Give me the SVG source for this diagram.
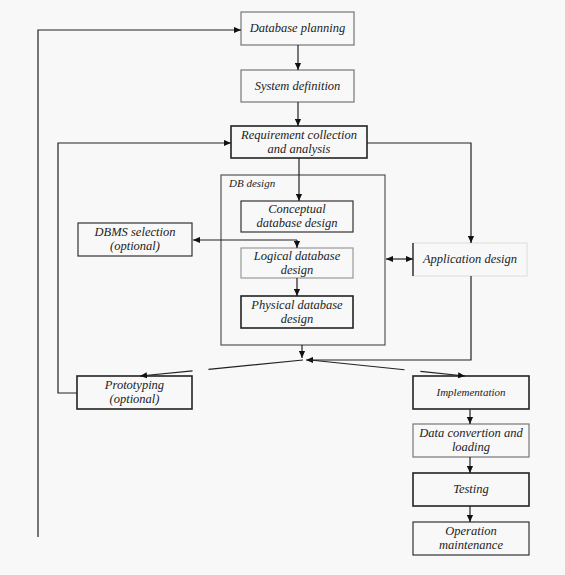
<svg xmlns="http://www.w3.org/2000/svg" width="565" height="575" viewBox="0 0 565 575">
<defs>
<style>
.bg{fill:#f8f8f8}
.box{fill:#f8f8f8;stroke:#333;stroke-width:1.2}
.g{stroke:#777}
.lg{stroke:#999}
.thick{stroke:#222;stroke-width:1.6}
.t{font-family:"Liberation Serif","Times New Roman",serif;font-style:italic;font-size:12.5px;fill:#222;text-anchor:middle}
.c{fill:none;stroke:#222;stroke-width:1.2}
.d{stroke-dasharray:95 16}
</style>
<marker id="ar" viewBox="0 0 8 8" refX="8" refY="4" markerWidth="7" markerHeight="7" markerUnits="userSpaceOnUse" orient="auto-start-reverse">
<path d="M0,0.5 L8,4 L0,7.5 Z" fill="#111"/>
</marker>
</defs>
<rect class="bg" x="0" y="0" width="565" height="575"/>

<g id="db-design">
<rect x="221" y="175" width="164" height="170" fill="none" stroke="#555" stroke-width="1.2"/>
<text class="t" x="229" y="187" style="text-anchor:start;font-size:11px">DB design</text>
</g>

<g id="database-planning">
<rect class="box g" x="241" y="12" width="113" height="33"/>
<text class="t" x="297.5" y="32">Database planning</text>
</g>
<g id="system-definition">
<rect class="box g" x="241" y="70" width="113" height="32"/>
<text class="t" x="297.5" y="90">System definition</text>
</g>
<g id="requirement">
<rect class="box thick" x="231" y="126" width="136" height="32"/>
<text class="t" x="299" y="139">Requirement collection</text>
<text class="t" x="299" y="153">and analysis</text>
</g>
<g id="conceptual">
<rect class="box" x="241" y="201" width="112" height="31"/>
<text class="t" x="297" y="213">Conceptual</text>
<text class="t" x="297" y="227">database design</text>
</g>
<g id="logical">
<rect class="box lg" x="241" y="248" width="112" height="30"/>
<text class="t" x="297" y="260">Logical database</text>
<text class="t" x="297" y="274">design</text>
</g>
<g id="physical">
<rect class="box thick" x="241" y="296" width="112" height="32"/>
<text class="t" x="297" y="309">Physical database</text>
<text class="t" x="297" y="323">design</text>
</g>
<g id="dbms-selection">
<rect class="box" x="78" y="223" width="114" height="33"/>
<text class="t" x="135" y="236">DBMS selection</text>
<text class="t" x="135" y="250">(optional)</text>
</g>
<g id="application-design">
<rect class="box" x="413" y="243" width="114" height="33" style="stroke:#e2e2e2"/>
<line x1="413" y1="243" x2="413" y2="276" stroke="#333" stroke-width="1.5"/>
<text class="t" x="470" y="263">Application design</text>
</g>
<g id="prototyping">
<rect class="box thick" x="77" y="376" width="115" height="33"/>
<text class="t" x="134.5" y="389">Prototyping</text>
<text class="t" x="134.5" y="403">(optional)</text>
</g>
<g id="implementation">
<rect class="box thick" x="413" y="376" width="116" height="33"/>
<text class="t" x="471" y="396" style="font-size:11px">Implementation</text>
</g>
<g id="data-conversion">
<rect class="box g" x="413" y="424" width="116" height="33"/>
<text class="t" x="471" y="437">Data convertion and</text>
<text class="t" x="471" y="451">loading</text>
</g>
<g id="testing">
<rect class="box thick" x="413" y="473" width="116" height="33"/>
<text class="t" x="471" y="493">Testing</text>
</g>
<g id="operation">
<rect class="box" x="413" y="522" width="116" height="33"/>
<text class="t" x="471" y="535">Operation</text>
<text class="t" x="471" y="549">maintenance</text>
</g>

<g id="connectors">
<path class="c" d="M38,537 V30 H241" marker-end="url(#ar)"/>
<path class="c" d="M298,45 V70" marker-end="url(#ar)"/>
<path class="c" d="M298,102 V126" marker-end="url(#ar)"/>
<path class="c" d="M299,158 V201" marker-end="url(#ar)"/>
<path class="c" d="M297,240 H193" marker-end="url(#ar)"/>
<path class="c" d="M297,240 V248" marker-end="url(#ar)"/>
<path class="c" d="M297,278 V296" marker-end="url(#ar)"/>
<path class="c" d="M367,143 H471 V243" marker-end="url(#ar)"/>
<path class="c" d="M77,393 H58 V143 H231" marker-end="url(#ar)"/>
<path class="c" d="M386,259 H413" marker-start="url(#ar)" marker-end="url(#ar)"/>
<path class="c" d="M471,276 V360 H306" marker-end="url(#ar)"/>
<path class="c" d="M302,345 V358" marker-end="url(#ar)"/>
<path class="c d" d="M303,360 L140,376" marker-end="url(#ar)"/>
<path class="c d" d="M310,360 L465,376" marker-end="url(#ar)"/>
<path class="c" d="M470,409 V424" marker-end="url(#ar)"/>
<path class="c" d="M470,457 V473" marker-end="url(#ar)"/>
<path class="c" d="M470,506 V522" marker-end="url(#ar)"/>
</g>
</svg>
